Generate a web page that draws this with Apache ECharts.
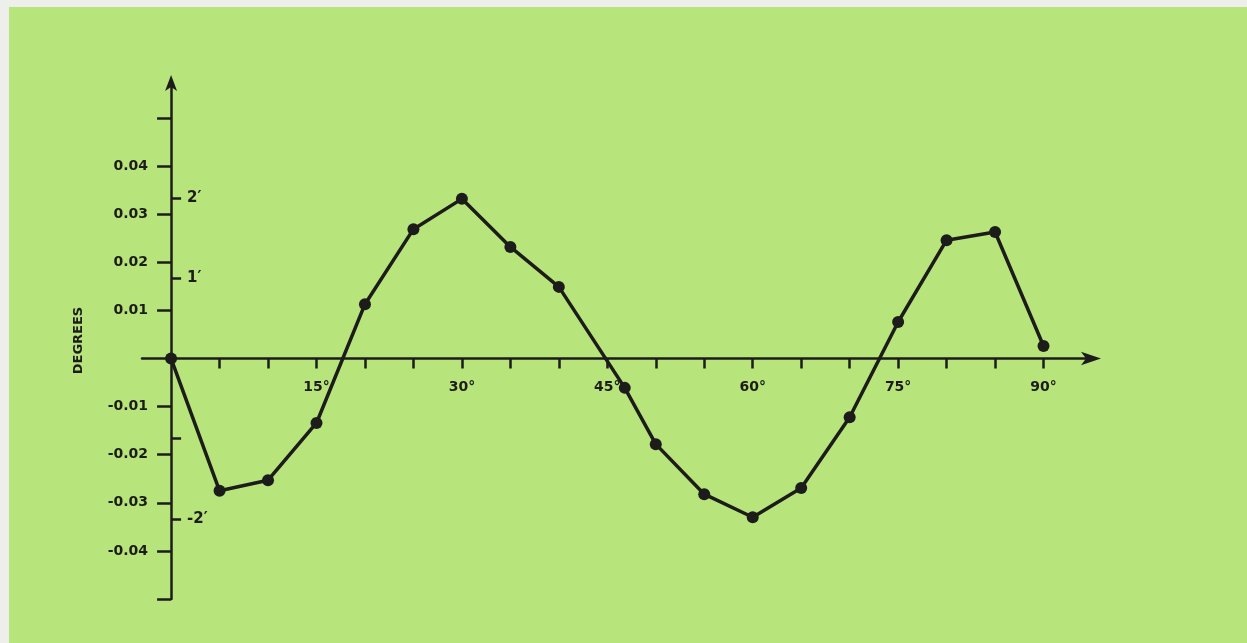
<!DOCTYPE html>
<html>
<head>
<meta charset="utf-8">
<script src="https://cdn.jsdelivr.net/npm/echarts@6/dist/echarts.min.js"></script>
<style>
html,body{margin:0;padding:0;background:#eeeeea;}
#chart{width:1247px;height:643px;}
</style>
</head>
<body>
<div id="chart"></div>
<script>
// Data
const angles = [0, 5, 10, 15, 20, 25, 30, 35, 40, 46.8, 50, 55, 60, 65, 70, 75, 80, 85, 90];
const errors = [0, -0.0275, -0.0253, -0.0134, 0.0113, 0.0269, 0.0332, 0.0232, 0.0149, -0.0061,
                -0.0178, -0.0282, -0.033, -0.0269, -0.0122, 0.0076, 0.0246, 0.0263, 0.0026];
const xTicks = [5, 10, 15, 20, 25, 30, 35, 40, 45, 50, 55, 60, 65, 70, 75, 80, 85, 90];
const xLabels = [15, 30, 45, 60, 75, 90];
const yTicks = [-0.05, -0.04, -0.03, -0.02, -0.01, 0.01, 0.02, 0.03, 0.04, 0.05];
const yLabels = [-0.04, -0.03, -0.02, -0.01, 0.01, 0.02, 0.03, 0.04];
const arcTicks = [-2, -1, 1, 2];
const arcLabels = {'2': "2\u2032", '1': "1\u2032", '-1': "", '-2': "-2\u2032"};
const yName = 'DEGREES';

const ink = '#1c1c1a';
const font = 'DejaVu Sans';
const W = 1247, H = 643;
const xMin = -3, xMax = 95;
const yMin = -0.05, yMax = 0.0575;
const G = {left: 142, right: 155, top: 82, bottom: 44};
const gw = W - G.left - G.right, gh = H - G.top - G.bottom;
// shift axes so they cross at the origin (labels follow the shift)
const xShift = -gh * (0 - yMin) / (yMax - yMin);   // move x axis up to y = 0
const yShift = -gw * (0 - xMin) / (xMax - xMin);   // move y axis right to x = 0

const chart = echarts.init(document.getElementById('chart'));
chart.setOption({
  backgroundColor: '#b7e47b',
  animation: false,
  graphic: [
    {type: 'rect', shape: {x: 0, y: 0, width: W, height: 7}, style: {fill: '#eeeeea'}, silent: true},
    {type: 'rect', shape: {x: 0, y: 0, width: 9, height: H}, style: {fill: '#eeeeea'}, silent: true}
  ],
  grid: Object.assign({containLabel: false}, G),
  xAxis: {
    type: 'value',
    min: xMin, max: xMax,
    offset: xShift,
    axisLine: {onZero: false, symbol: ['none', 'arrow'], symbolSize: [10, 20], symbolOffset: [0, 9],
      lineStyle: {color: ink, width: 2.5}},
    axisTick: {show: true, length: 10, customValues: xTicks, lineStyle: {color: ink, width: 2.5}},
    axisLabel: {customValues: xLabels, formatter: v => v + '\u00b0', color: ink, fontFamily: font,
      fontSize: 14, fontWeight: 'bold', margin: 22},
    splitLine: {show: false}
  },
  yAxis: [
    {
      type: 'value',
      min: yMin, max: yMax,
      offset: yShift,
      name: yName, nameLocation: 'middle', nameRotate: 90, nameGap: 86,
      nameTextStyle: {color: ink, fontFamily: font, fontSize: 13, fontWeight: 'bold'},
      axisLine: {onZero: false, symbol: ['none', 'arrow'], symbolSize: [9, 16], symbolOffset: [0, 7],
        lineStyle: {color: ink, width: 2.5}},
      axisTick: {show: true, length: 14, customValues: yTicks, lineStyle: {color: ink, width: 2.5}},
      axisLabel: {customValues: yLabels, formatter: v => v.toFixed(2), color: ink, fontFamily: font,
        fontSize: 14, fontWeight: 'bold', margin: 23},
      splitLine: {show: false}
    },
    {
      type: 'value',
      position: 'left',
      min: yMin * 60, max: yMax * 60,
      offset: yShift,
      axisLine: {show: false, onZero: false},
      axisTick: {show: true, inside: true, length: 10, customValues: arcTicks, lineStyle: {color: ink, width: 2.5}},
      axisLabel: {inside: true, customValues: arcTicks, formatter: v => arcLabels[String(v)], color: ink,
        fontFamily: font, fontSize: 15, fontWeight: 'bold', margin: 16},
      splitLine: {show: false}
    }
  ],
  series: [{
    type: 'line',
    yAxisIndex: 0,
    data: angles.map((a, i) => [a, errors[i]]),
    symbol: 'circle', symbolSize: 12,
    itemStyle: {color: ink},
    lineStyle: {color: ink, width: 3.5},
    z: 5
  }]
});
</script>
</body>
</html>
